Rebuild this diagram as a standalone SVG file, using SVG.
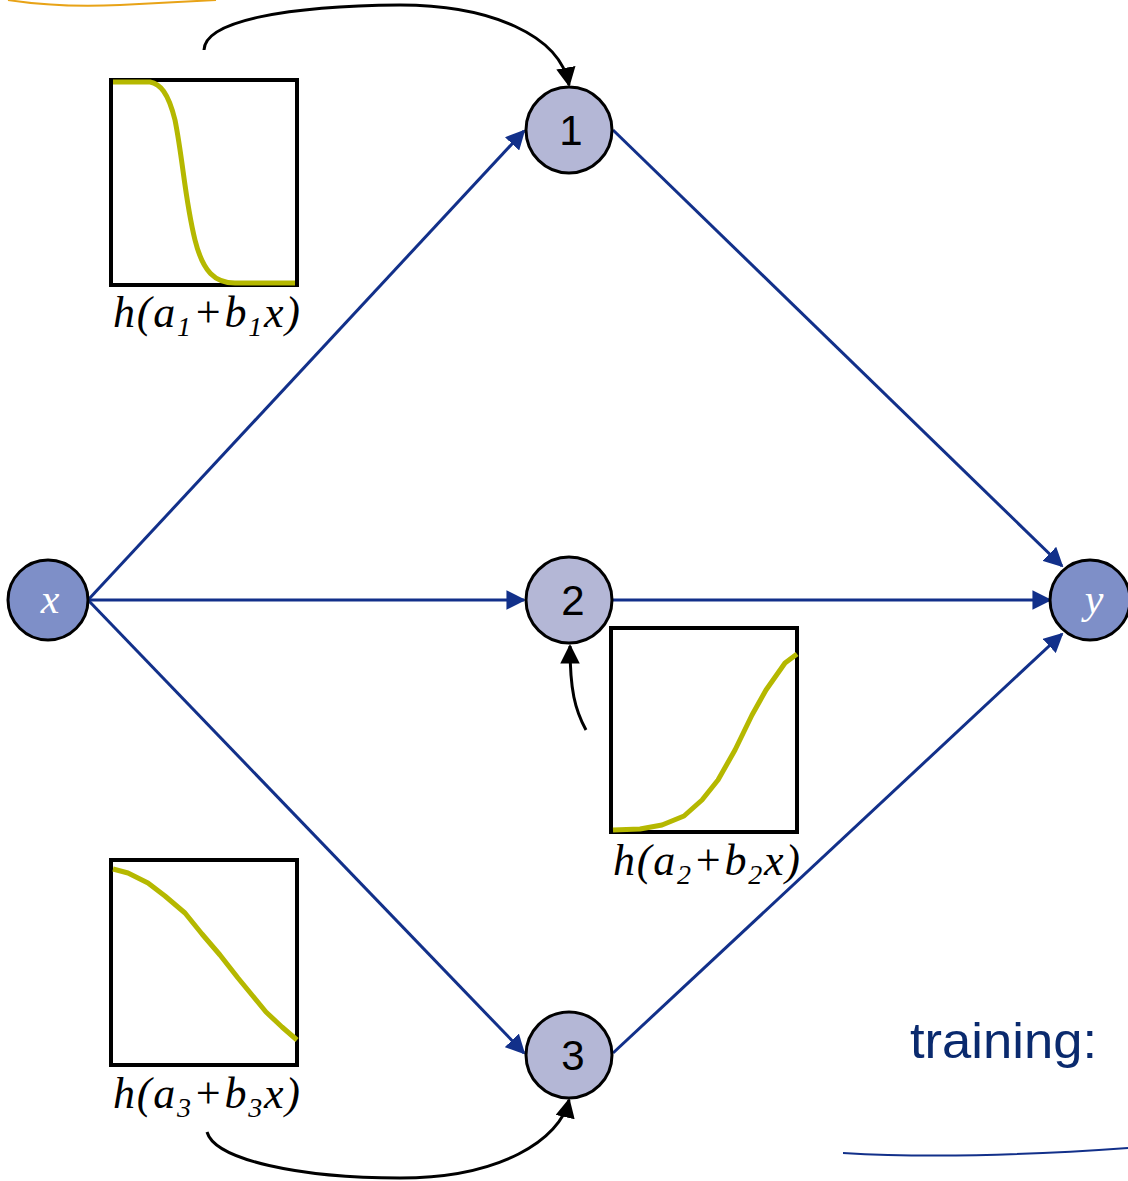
<svg xmlns="http://www.w3.org/2000/svg" width="1128" height="1181" viewBox="0 0 1128 1181">
<defs>
<style>
.edge{stroke:#12308a;stroke-width:3;fill:none}
.cur{stroke:#000;stroke-width:3;fill:none}
.box{stroke:#000;stroke-width:4;fill:#fff}
.sig{stroke:#b5b800;stroke-width:5;fill:none;stroke-linejoin:round}
.hid{fill:#b4b7d6;stroke:#000;stroke-width:3}
.io{fill:#7e8fc8;stroke:#000;stroke-width:3}
.num{font-family:"Liberation Sans",Arial,sans-serif;font-size:42px;fill:#000;text-anchor:middle}
.var{font-family:"Liberation Serif","Times New Roman",serif;font-style:italic;font-size:42px;fill:#fff;text-anchor:middle}
.lab{font-family:"Liberation Serif","Times New Roman",serif;font-style:italic;font-size:44px;fill:#000}
</style>
<marker id="ab" viewBox="0 0 10 10" refX="9" refY="5" markerWidth="6.5" markerHeight="6.5" orient="auto" markerUnits="strokeWidth"><path d="M0,0L10,5L0,10z" fill="#12308a"/></marker>
<marker id="ak" viewBox="0 0 10 10" refX="9" refY="5" markerWidth="6.5" markerHeight="6.5" orient="auto" markerUnits="strokeWidth"><path d="M0,0L10,5L0,10z" fill="#000"/></marker>
</defs>
<rect width="1128" height="1181" fill="#fff"/>
<path d="M8,0 Q60,8 120,5 T216,0" stroke="#e8a317" stroke-width="2" fill="none"/>
<path d="M843,1153 Q960,1160 1128,1148" stroke="#12308a" stroke-width="2" fill="none"/>
<g id="connectors">
<line class="edge" x1="88" y1="600" x2="524" y2="131" marker-end="url(#ab)"/>
<line class="edge" x1="88" y1="600" x2="524" y2="600" marker-end="url(#ab)"/>
<line class="edge" x1="88" y1="600" x2="524" y2="1053" marker-end="url(#ab)"/>
<line class="edge" x1="613" y1="130" x2="1062" y2="566" marker-end="url(#ab)"/>
<line class="edge" x1="613" y1="600" x2="1050" y2="600" marker-end="url(#ab)"/>
<line class="edge" x1="613" y1="1053" x2="1062" y2="634" marker-end="url(#ab)"/>
<path class="cur" d="M204,50 C205,20 290,6 400,5 C490,5 560,35 569,85" marker-end="url(#ak)"/>
<path class="cur" d="M586,730 C575,710 570,690 570,646" marker-end="url(#ak)"/>
<path class="cur" d="M207,1132 C215,1160 300,1178 400,1178 C500,1178 560,1140 569,1100" marker-end="url(#ak)"/>
</g>
<g id="plot1">
<rect class="box" x="111" y="80" width="186" height="205"/>
<path class="sig" d="M113,82 L150,82 C160,84 168,92 175,120 C183,160 185,200 195,240 C203,272 215,283 235,283 L295,283"/>
<text class="lab" x="113" y="327" textLength="187" lengthAdjust="spacing">h(a<tspan font-size="28" dy="9">1</tspan><tspan dy="-9">+b</tspan><tspan font-size="28" dy="9">1</tspan><tspan dy="-9">x)</tspan></text>
</g>
<g id="plot2">
<rect class="box" x="611" y="628" width="186" height="204"/>
<path class="sig" d="M613,830 L640,829 L662,825 L684,816 L702,800 L718,780 L735,750 L752,715 L766,690 L785,663 L797,654"/>
<text class="lab" x="613" y="875" textLength="187" lengthAdjust="spacing">h(a<tspan font-size="28" dy="9">2</tspan><tspan dy="-9">+b</tspan><tspan font-size="28" dy="9">2</tspan><tspan dy="-9">x)</tspan></text>
</g>
<g id="plot3">
<rect class="box" x="111" y="860" width="186" height="205"/>
<path class="sig" d="M113,869 L128,873 L148,883 L165,896 L185,913 L202,934 L220,955 L238,978 L252,995 L266,1012 L282,1027 L297,1040"/>
<text class="lab" x="113" y="1108" textLength="187" lengthAdjust="spacing">h(a<tspan font-size="28" dy="9">3</tspan><tspan dy="-9">+b</tspan><tspan font-size="28" dy="9">3</tspan><tspan dy="-9">x)</tspan></text>
</g>
<g id="node-x"><circle class="io" cx="48" cy="600" r="40"/><text class="var" x="50" y="613">x</text></g>
<g id="node-1"><circle class="hid" cx="569" cy="130" r="43"/><text class="num" x="571" y="145">1</text></g>
<g id="node-2"><circle class="hid" cx="569" cy="600" r="43"/><text class="num" x="573" y="615">2</text></g>
<g id="node-3"><circle class="hid" cx="569" cy="1055" r="43"/><text class="num" x="573" y="1070">3</text></g>
<g id="node-y"><circle class="io" cx="1090" cy="600" r="40"/><text class="var" x="1094" y="613">y</text></g>
<text x="910" y="1058" font-family="Liberation Sans,Arial,sans-serif" font-size="50" fill="#0a2a6e" textLength="187" lengthAdjust="spacingAndGlyphs">training:</text>
</svg>
